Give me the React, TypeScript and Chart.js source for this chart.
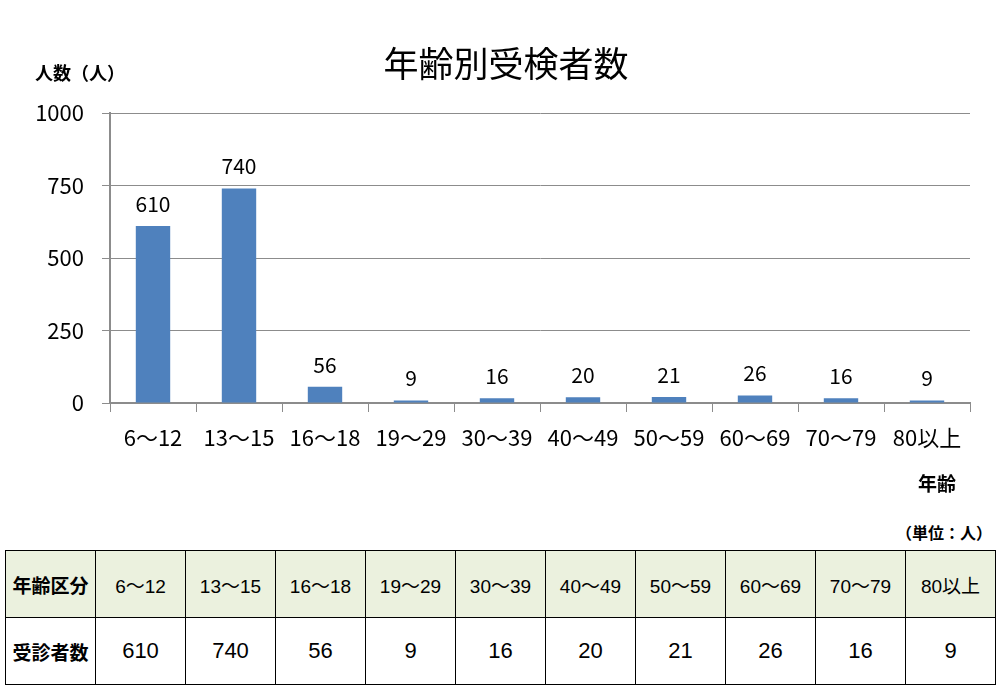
import React, { useEffect, useRef } from "react";
import { Chart, registerables } from "chart.js";

Chart.register(...registerables);

const categories = ["6～12", "13～15", "16～18", "19～29", "30～39", "40～49", "50～59", "60～69", "70～79", "80以上"];
const counts = [610, 740, 56, 9, 16, 20, 21, 26, 16, 9];
const yTicks = [0, 250, 500, 750, 1000];

const chartTitle = "年齢別受検者数";
const yAxisTitle = "人数（人）";
const xAxisTitle = "年齢";
const unitNote = "（単位：人）";
const rowHeader1 = "年齢区分";
const rowHeader2 = "受診者数";

const JP = '"Noto Sans CJK JP", "Noto Sans", sans-serif';

const textPlugin = {
  id: "textPlugin",
  afterDatasetsDraw(chart: any) {
    const ctx = chart.ctx;
    ctx.save();
    const meta = chart.getDatasetMeta(0);
    ctx.fillStyle = "#000";
    ctx.font = `21px ${JP}`;
    ctx.textAlign = "center";
    ctx.textBaseline = "middle";
    meta.data.forEach((bar: any, i: number) => {
      ctx.fillText(String(counts[i]), bar.x, bar.y - 22);
    });
    ctx.font = `35px ${JP}`;
    ctx.fillText(chartTitle, 506, 64);
    ctx.font = `bold 18px ${JP}`;
    ctx.textAlign = "left";
    ctx.fillText(yAxisTitle, 35, 73);
    ctx.font = `bold 19px ${JP}`;
    ctx.textAlign = "center";
    ctx.fillText(xAxisTitle, 937, 484);
    ctx.restore();
  },
};

export default function App() {
  const ref = useRef<HTMLCanvasElement>(null);
  useEffect(() => {
    if (!ref.current) return;
    const chart = new Chart(ref.current, {
      type: "bar",
      data: {
        labels: categories,
        datasets: [
          {
            data: counts,
            backgroundColor: "#4F81BD",
            borderWidth: 0,
            barPercentage: 0.4,
            categoryPercentage: 1,
          },
        ],
      },
      options: {
        animation: false,
        responsive: false,
        devicePixelRatio: 1,
        layout: { padding: { top: 113, right: 37, left: 0, bottom: 0 } },
        plugins: { legend: { display: false }, tooltip: { enabled: false }, title: { display: false } },
        scales: {
          x: {
            afterFit: (s: any) => {
              s.height = 97;
            },
            grid: { drawOnChartArea: false, drawTicks: true, tickLength: 9, color: "#8c8c8c", offset: true },
            border: { color: "#8c8c8c", width: 2 },
            ticks: { color: "#000", font: { family: JP, size: 22 }, padding: 12, maxRotation: 0, autoSkip: false },
          },
          y: {
            min: 0,
            max: 1000,
            afterFit: (s: any) => {
              s.width = 110;
            },
            afterBuildTicks: (s: any) => {
              s.ticks = yTicks.map((v) => ({ value: v }));
            },
            grid: { color: "#8c8c8c", lineWidth: 1, tickLength: 8 },
            border: { color: "#8c8c8c", width: 2 },
            ticks: {
              color: "#000",
              font: { family: JP, size: 22 },
              padding: 18,
              callback: (v: any) => String(v),
            },
          },
        },
      },
      plugins: [textPlugin],
    });
    return () => chart.destroy();
  }, []);

  const cellBase: React.CSSProperties = {
    border: "1.5px solid #000",
    textAlign: "center",
    verticalAlign: "middle",
    padding: 0,
    overflow: "hidden",
    whiteSpace: "nowrap",
  };
  const tableFont = '"Liberation Sans", "Noto Sans CJK JP", sans-serif';

  return (
    <div style={{ position: "absolute", left: 0, top: 0, width: 1007, height: 692, background: "#fff", overflow: "hidden" }}>
      <canvas ref={ref} width={1007} height={500} style={{ position: "absolute", left: 0, top: 0, width: 1007, height: 500 }} />
      <div
        style={{
          position: "absolute",
          left: 880,
          top: 520,
          width: 112,
          textAlign: "right",
          fontFamily: JP,
          fontWeight: "bold",
          fontSize: 16,
          lineHeight: "24px",
          color: "#000",
        }}
      >
        {unitNote}
      </div>
      <table
        style={{
          position: "absolute",
          left: 5,
          top: 550,
          borderCollapse: "collapse",
          tableLayout: "fixed",
          width: 991,
          fontFamily: tableFont,
          color: "#000",
        }}
      >
        <tbody>
          <tr style={{ height: 67, background: "#EBF1DE" }}>
            <td style={{ ...cellBase, fontFamily: JP, fontWeight: "bold", fontSize: 19 }}>{rowHeader1}</td>
            {categories.map((c) => (
              <td key={c} style={{ ...cellBase, fontSize: 19 }}>
                {c}
              </td>
            ))}
          </tr>
          <tr style={{ height: 67 }}>
            <td style={{ ...cellBase, fontFamily: JP, fontWeight: "bold", fontSize: 19 }}>{rowHeader2}</td>
            {counts.map((v, i) => (
              <td key={i} style={{ ...cellBase, fontSize: 22 }}>
                {v}
              </td>
            ))}
          </tr>
        </tbody>
      </table>
    </div>
  );
}
